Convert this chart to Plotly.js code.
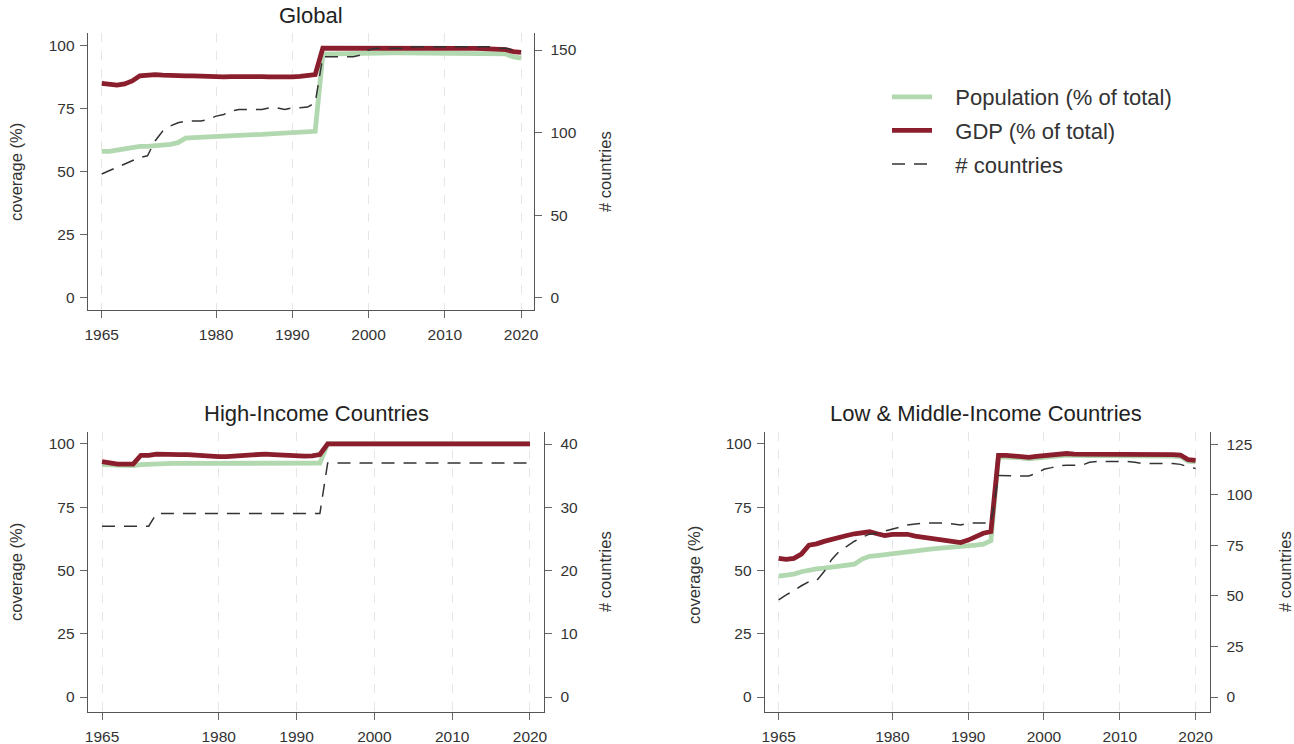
<!DOCTYPE html>
<html>
<head>
<meta charset="utf-8">
<script src="https://cdn.plot.ly/plotly-3.0.1.min.js"></script>
<style>html,body{margin:0;padding:0;background:#fff;}#chart{width:1294px;height:744px;}</style>
</head>
<body>
<div id="chart"></div>
<script>
// Years 1965-2020
const years = [];
for (let y = 1965; y <= 2020; y++) years.push(y);

const xTickVals = [1965, 1980, 1990, 2000, 2010, 2020];

// ---- Global ----
const globalPop = [58, 58, 58.5, 59, 59.5, 60, 60, 60.2, 60.4, 60.8, 61.5, 63.3, 63.5, 63.7, 63.9, 64, 64.2, 64.4, 64.5, 64.6, 64.7, 64.8, 65, 65.1, 65.2, 65.3, 65.5, 65.7, 66,
  96.6, 96.7, 96.8, 96.8, 96.9, 97, 97, 97, 97.1, 97.1, 97.1, 97.1, 97.1, 97, 97, 97, 97, 97, 97, 97, 96.9, 96.9, 96.9, 96.8, 96.7, 95.5, 95];
const globalGdp = [85, 84.5, 84.3, 84.8, 86, 88, 88.3, 88.5, 88.3, 88.1, 88, 88, 88, 87.8, 87.8, 87.6, 87.6, 87.7, 87.8, 87.8, 87.8, 87.7, 87.6, 87.5, 87.5, 87.6, 87.8, 88.2, 88.5,
  99, 99, 99, 99, 99, 99.1, 99.2, 99.2, 99.3, 99.3, 99.3, 99.3, 99.3, 99.2, 99.2, 99.1, 99.1, 99, 99, 99, 98.9, 98.8, 98.8, 98.6, 98.4, 97.6, 97.3];
const globalCount = [75, 77, 79, 81, 83, 85, 86, 95, 101, 104, 106, 107, 107, 107, 108, 110, 111, 113, 114, 114, 114, 114, 115, 115, 114, 115, 115, 115.5, 118,
  146, 146, 146, 146, 146, 147, 150, 151, 151, 151, 151, 151, 152, 152, 152, 152, 152, 152, 152, 152, 152, 152, 152, 151, 151, 150, 149];

// ---- High-Income ----
const hiPop = [91.8, 91.6, 91.4, 91.4, 91.4, 91.8, 92, 92.3, 92.3, 92.3, 92.3, 92.3, 92.3, 92.3, 92.3, 92.3, 92.3, 92.3, 92.3, 92.3, 92.3, 92.3, 92.3, 92.3, 92.3, 92.3, 92.3, 92.3, 92.4,
  100, 100, 100, 100, 100, 100, 100, 100, 100, 100, 100, 100, 100, 100, 100, 100, 100, 100, 100, 100, 100, 100, 100, 100, 100, 100, 100];
const hiGdp = [93, 92.5, 92, 92, 92, 95.5, 95.5, 96, 95.8, 95.8, 95.8, 95.8, 95.5, 95.2, 95, 95, 95, 95.2, 95.5, 95.8, 96, 96, 95.8, 95.6, 95.4, 95.2, 95.2, 95.3, 95.8,
  100, 100, 100, 100, 100, 100, 100, 100, 100, 100, 100, 100, 100, 100, 100, 100, 100, 100, 100, 100, 100, 100, 100, 100, 100, 100, 100];
const hiCount = [27, 27, 27, 27, 27, 27, 27, 29, 29, 29, 29, 29, 29, 29, 29, 29, 29, 29, 29, 29, 29, 29, 29, 29, 29, 29, 29, 29, 29,
  37, 37, 37, 37, 37, 37, 37, 37, 37, 37, 37, 37, 37, 37, 37, 37, 37, 37, 37, 37, 37, 37, 37, 37, 37, 37, 37];

// ---- Low & Middle-Income ----
const lmiPop = [47.8, 48, 48.6, 49.5, 50.2, 50.6, 50.9, 51.2, 51.6, 52, 52.5, 54.5, 55.6, 55.9, 56.3, 56.8, 57.2, 57.5, 57.8, 58.1, 58.4, 58.7, 58.9, 59.2, 59.5, 59.7, 60, 60.4, 61.8,
  94.9, 94.9, 94.7, 94.5, 94.1, 94.5, 94.8, 95, 95.3, 95.6, 95.4, 95.4, 95.4, 95.4, 95.4, 95.4, 95.4, 95.6, 95.6, 95.6, 95.6, 95.2, 95.2, 95.2, 95, 93.2, 92.9];
const lmiGdp = [54.8, 54.4, 54.8, 56.5, 60, 60.5, 61.5, 62.4, 63.2, 63.8, 64.5, 65, 65.3, 64.5, 63.8, 64.3, 64.4, 64.3, 63.6, 63.2, 62.8, 62.4, 61.9, 61.3, 61, 62, 63.4, 64.7, 65.4,
  95.5, 95.5, 95.3, 95.1, 94.7, 95.1, 95.4, 95.6, 95.9, 96.2, 96, 96, 96, 96, 96, 96, 96, 96.2, 96.2, 96.2, 96.2, 95.8, 95.8, 95.8, 95.6, 93.8, 93.5];
const lmiCount = [48, 50.5, 52.5, 55, 57, 57.5, 62, 68, 72, 74.5, 77, 79, 80.5, 81, 82, 83, 84, 85, 85.5, 86, 86, 86, 86, 85.5, 85, 86, 86, 86, 86,
  109.5, 109.3, 109.3, 109.3, 109.3, 110.6, 112.6, 113.4, 114.3, 114.6, 114.6, 114.6, 116, 116.4, 116.4, 116.4, 116.4, 116.4, 116, 115.4, 115.4, 115.4, 115.4, 115.4, 115, 113.8, 113];

const pad = "\u00a0\u00a0\u00a0";
const labels = ["Population (% of total)", "GDP (% of total)", "# countries"];
const popColor = "#b2d8b0";
const gdpColor = "#8b1e2d";
const cntColor = "#333333";
const FONT = "Liberation Sans, Arial, Helvetica, sans-serif";

function panel(xa, yl, yr, pop, gdp, cnt, show) {
  return [
    {x: years, y: pop, xaxis: xa, yaxis: yl, type: "scatter", mode: "lines", name: pad + labels[0],
     line: {color: popColor, width: 4.8}, showlegend: show, legendgroup: "a"},
    {x: years, y: gdp, xaxis: xa, yaxis: yl, type: "scatter", mode: "lines", name: pad + labels[1],
     line: {color: gdpColor, width: 4.8}, showlegend: show, legendgroup: "b"},
    {x: years, y: cnt, xaxis: xa, yaxis: yr, type: "scatter", mode: "lines", name: pad + labels[2],
     line: {color: cntColor, width: 1.5, dash: "13px,9px"}, showlegend: show, legendgroup: "c"}
  ];
}

const data = [].concat(
  panel("x", "y", "y2", globalPop, globalGdp, globalCount, true),
  panel("x2", "y3", "y4", hiPop, hiGdp, hiCount, false),
  panel("x3", "y5", "y6", lmiPop, lmiGdp, lmiCount, false)
);

const tickFont = {family: FONT, size: 15.5, color: "#333"};
const common = {ticks: "outside", ticklen: 7, tickcolor: "#666", showline: true, linecolor: "#555", linewidth: 1.3,
  zeroline: false, tickfont: tickFont, automargin: false, fixedrange: true};
function xAxis(domain, range, anchor) {
  return Object.assign({}, common, {domain: domain, range: range, anchor: anchor, tickvals: xTickVals,
    showgrid: true, gridcolor: "#e6e6e6", griddash: "dash", gridwidth: 1, ticklabelstandoff: 3});
}
function yAxisL(domain, range, anchor, ticks) {
  return Object.assign({}, common, {domain: domain, range: range, anchor: anchor, side: "left", tickvals: ticks,
    showgrid: false, ticklabelstandoff: 2});
}
function yAxisR(overlay, range, anchor, ticks) {
  return Object.assign({}, common, {overlaying: overlay, range: range, anchor: anchor, side: "right", tickvals: ticks,
    showgrid: false, ticklabelstandoff: 5});
}

const W = 1294, H = 744;
const px = v => v / W;
const py = v => 1 - v / H;

const layout = {
  width: W, height: H,
  margin: {l: 0, r: 0, t: 0, b: 0},
  paper_bgcolor: "#fff", plot_bgcolor: "rgba(0,0,0,0)",
  font: {family: FONT, color: "#333"},
  xaxis: xAxis([px(88), px(534)], [1963.2, 2021.7], "y"),
  yaxis: yAxisL([py(310), py(33)], [-4.9, 105.0], "x", [0, 25, 50, 75, 100]),
  yaxis2: yAxisR("y", [-7.3, 160.3], "x", [0, 50, 100, 150]),
  xaxis2: xAxis([px(88), px(544)], [1963.2, 2021.8], "y3"),
  yaxis3: yAxisL([py(712), py(432)], [-5.9, 104.7], "x2", [0, 25, 50, 75, 100]),
  yaxis4: yAxisR("y3", [-2.37, 41.9], "x2", [0, 10, 20, 30, 40]),
  xaxis3: xAxis([px(765), px(1210)], [1963.2, 2021.9], "y5"),
  yaxis5: yAxisL([py(712), py(432)], [-5.9, 104.7], "x3", [0, 25, 50, 75, 100]),
  yaxis6: yAxisR("y5", [-7.4, 131], "x3", [0, 25, 50, 75, 100, 125]),
  showlegend: true,
  legend: {x: px(887), y: py(76), xanchor: "left", yanchor: "top", font: {family: FONT, size: 22, color: "#333"},
    itemwidth: 40, tracegroupgap: 2, bgcolor: "rgba(0,0,0,0)", borderwidth: 0, traceorder: "grouped"},
  annotations: [
    {text: "Global", x: px(311), y: py(16), xref: "paper", yref: "paper", showarrow: false, xanchor: "center", yanchor: "middle",
     font: {family: FONT, size: 22, color: "#222"}},
    {text: "High-Income Countries", x: px(316), y: py(414), xref: "paper", yref: "paper", showarrow: false, xanchor: "center", yanchor: "middle",
     font: {family: FONT, size: 22, color: "#222"}},
    {text: "Low & Middle-Income Countries", x: px(986), y: py(414), xref: "paper", yref: "paper", showarrow: false, xanchor: "center", yanchor: "middle",
     font: {family: FONT, size: 22, color: "#222"}},
    {text: "coverage (%)", x: px(16), y: py(172), xref: "paper", yref: "paper", showarrow: false, textangle: -90,
     xanchor: "center", yanchor: "middle", font: {family: FONT, size: 16.5, color: "#333"}},
    {text: "coverage (%)", x: px(16), y: py(572), xref: "paper", yref: "paper", showarrow: false, textangle: -90,
     xanchor: "center", yanchor: "middle", font: {family: FONT, size: 16.5, color: "#333"}},
    {text: "coverage (%)", x: px(694), y: py(575), xref: "paper", yref: "paper", showarrow: false, textangle: -90,
     xanchor: "center", yanchor: "middle", font: {family: FONT, size: 16.5, color: "#333"}},
    {text: "# countries", x: px(605), y: py(172), xref: "paper", yref: "paper", showarrow: false, textangle: -90,
     xanchor: "center", yanchor: "middle", font: {family: FONT, size: 16.5, color: "#333"}},
    {text: "# countries", x: px(605), y: py(572), xref: "paper", yref: "paper", showarrow: false, textangle: -90,
     xanchor: "center", yanchor: "middle", font: {family: FONT, size: 16.5, color: "#333"}},
    {text: "# countries", x: px(1285), y: py(572), xref: "paper", yref: "paper", showarrow: false, textangle: -90,
     xanchor: "center", yanchor: "middle", font: {family: FONT, size: 16.5, color: "#333"}}
  ]
};

Plotly.newPlot("chart", data, layout, {displayModeBar: false, staticPlot: true});
</script>
</body>
</html>
